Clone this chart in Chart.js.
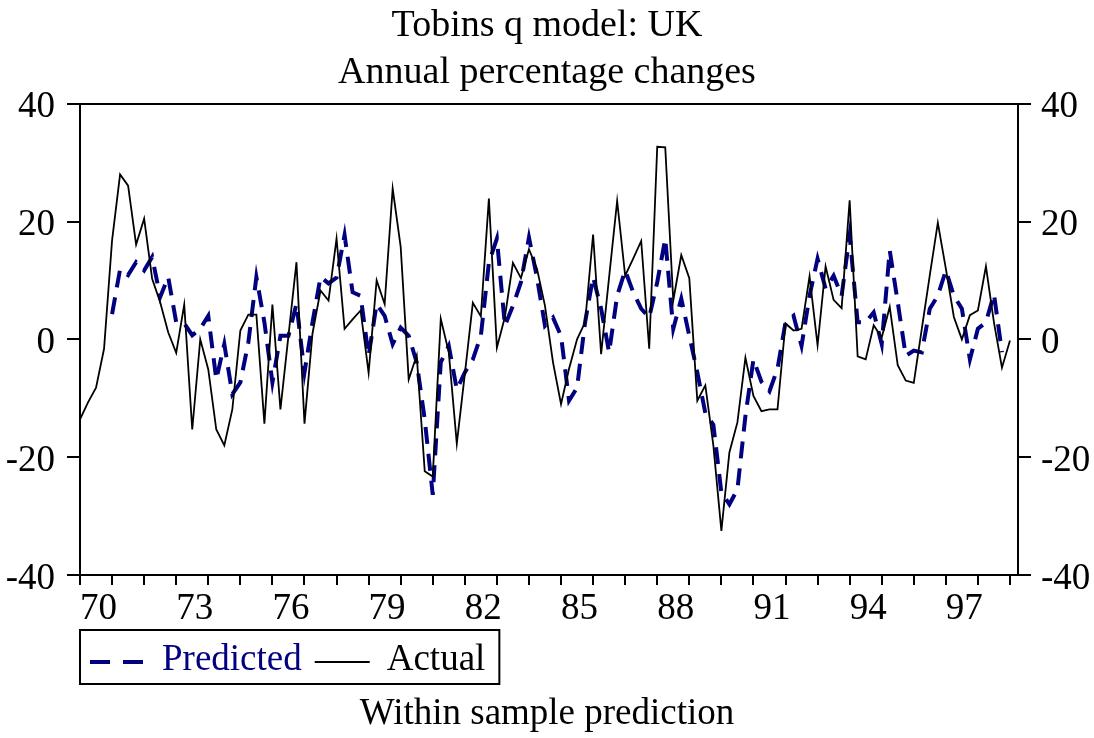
<!DOCTYPE html>
<html>
<head>
<meta charset="utf-8">
<script src="https://cdn.jsdelivr.net/npm/chart.js@4.4.1/dist/chart.umd.min.js"></script>
<style>
  html, body { margin: 0; padding: 0; background: #fff; }
  #wrap { width: 1094px; height: 738px; }
</style>
</head>
<body>
<div id="wrap"><canvas id="chart"></canvas></div>
<script>
// quarterly series, annual % changes
const actualStart = 1970;      // 1970 Q1
const actual = [
  -13.6, -10.7, -8.2, -1.6, 16.8, 28.0, 26.1, 16.1, 20.5, 10.3,
  6.3, 1.2, -2.3, 5.9, -15.3, 0.0, -5.1, -15.3, -18.0, -11.9,
  1.5, 4.2, 4.2, -14.3, 5.9, -11.9, 0.6, 13.1, -14.3, 1.0,
  8.3, 6.6, 17.1, 1.8, 3.4, 4.9, -5.7, 10.0, 6.0, 25.6,
  15.7, -6.8, -2.7, -22.4, -23.3, 3.5, -2.2, -17.7, -5.9, 6.2,
  3.9, 23.9, -1.4, 3.8, 13.0, 10.4, 15.3, 12.0, 5.7, -3.9,
  -11.0, -5.0, 0.0, 2.9, 17.8, -2.5, 10.6, 23.5, 10.8, 13.7,
  16.7, -1.6, 32.7, 32.6, 6.6, 14.3, 10.4, -10.4, -7.8, -18.0,
  -32.5, -19.2, -14.1, -3.1, -9.6, -12.2, -11.9, -11.9, 2.7, 1.5,
  1.8, 10.7, -1.0, 12.4, 6.7, 5.3, 23.6, -2.9, -3.4, 2.4,
  0.3, 5.5, -4.4, -7.0, -7.4, 1.8, 10.9, 19.8, 12.0, 3.8,
  0.0, 4.1, 4.9, 12.4, 2.9, -4.8, -0.2
];
const predictedStart = 1971;   // 1971 Q1
const predicted = [
  4.3, 11.9, 10.9, 13.1, 11.7, 14.0, 7.2, 10.6, 2.9, 2.7,
  0.7, 1.8, 4.0, -6.8, -0.8, -9.3, -7.3, -0.5, 10.6, 2.9,
  -7.3, 0.6, 0.6, 6.0, -5.6, 2.9, 10.6, 9.5, 10.5, 17.7,
  8.0, 7.4, -2.8, 6.0, 4.0, -0.8, 2.0, 0.6, -3.9, -13.6,
  -26.4, -3.9, -1.1, -8.5, -5.6, -3.4, 0.6, 13.0, 17.1, 2.3,
  5.7, 9.7, 17.3, 10.5, 2.3, 3.7, 0.6, -10.4, -8.2, 2.9,
  10.6, 5.2, -2.2, 7.4, 11.7, 8.0, 5.2, 3.7, 9.7, 17.1,
  1.8, 6.9, 0.6, -5.6, -12.5, -14.5, -26.0, -28.0, -25.5, -13.0,
  -3.4, -7.2, -8.8, -5.0, 2.9, 4.0, -1.1, 7.4, 13.7, 8.6,
  10.8, 7.4, 17.7, 2.9, 2.9, 4.6, -0.8, 15.1, 6.3, -2.8,
  -1.9, -2.2, 5.2, 7.4, 11.7, 7.4, 5.2, -3.4, 1.8, 2.9,
  7.7, -2.2
];
const yTicks = [-40, -20, 0, 20, 40];
const labelYears = [1970, 1973, 1976, 1979, 1982, 1985, 1988, 1991, 1994, 1997];
const firstYear = 1970, lastYear = 1999;
const xMax = 1999.25;

const serif = '"Liberation Serif", "Times New Roman", serif';
const toPoints = (start, vals) => vals.map((v, i) => ({ x: start + i / 4, y: v }));

// legend in a box under the x axis, like the original
const legendBox = {
  id: 'legendBox',
  afterDraw(chart) {
    const { ctx, chartArea } = chart;
    const left = chartArea.left, top = chartArea.bottom + 55, h = 54;
    const midY = top + h / 2;
    ctx.save();
    ctx.font = '37px ' + serif;
    ctx.textBaseline = 'middle';
    let x = left + 10;
    let end = x;
    chart.data.datasets.forEach(ds => {
      ctx.beginPath();
      ctx.setLineDash(ds.borderDash ? [20, 13] : []);
      ctx.lineWidth = ds.borderWidth;
      ctx.strokeStyle = ds.borderColor;
      ctx.moveTo(x, midY + 5);
      ctx.lineTo(x + 55, midY + 5);
      ctx.stroke();
      x += 55 + 17;
      ctx.setLineDash([]);
      ctx.fillStyle = ds.borderColor;
      ctx.fillText(ds.label, x, midY + 3);
      end = x + ctx.measureText(ds.label).width;
      x = end + 13;
    });
    ctx.lineWidth = 2;
    ctx.strokeStyle = '#000';
    ctx.strokeRect(left, top, end + 14 - left, h);
    ctx.restore();
  }
};

const yAxis = (pos, w, pad) => ({
  position: pos,
  min: -40, max: 40,
  afterBuildTicks: s => { s.ticks = yTicks.map(v => ({ value: v })); },
  afterFit: s => { s.width = w; },
  grid: { drawOnChartArea: false, tickLength: 13, color: '#000', lineWidth: 2 },
  border: { color: '#000', width: 2 },
  ticks: { color: '#000', padding: pad, labelOffset: 4, font: { family: serif, size: 37 } }
});

new Chart(document.getElementById('chart'), {
  type: 'line',
  data: {
    datasets: [
      { label: 'Predicted', data: toPoints(predictedStart, predicted), borderColor: '#000080',
        borderWidth: 4, borderDash: [17, 10], pointRadius: 0, tension: 0, order: 2 },
      { label: 'Actual', data: toPoints(actualStart, actual), borderColor: '#000',
        borderWidth: 1.8, pointRadius: 0, tension: 0, order: 1 }
    ]
  },
  options: {
    responsive: true, maintainAspectRatio: false, animation: false,
    layout: { padding: 0 },
    plugins: {
      legend: { display: false },
      tooltip: { enabled: false },
      title: { display: true, text: ['Tobins q model: UK', 'Annual percentage changes'], color: '#000',
        font: { family: serif, size: 38, weight: 'normal', lineHeight: 1.24 }, padding: { top: 2.5, bottom: 7 } },
      subtitle: { display: true, position: 'bottom', text: 'Within sample prediction', color: '#000',
        font: { family: serif, size: 37, weight: 'normal', lineHeight: 1.25 }, padding: { top: 3, bottom: 0.75 } }
    },
    scales: {
      x: {
        type: 'linear', position: 'bottom', min: firstYear, max: xMax,
        afterBuildTicks: s => {
          const t = [];
          for (let y = firstYear; y <= lastYear; y++) t.push({ value: y });
          s.ticks = t;
        },
        afterFit: s => { s.height = 113; },
        grid: { drawOnChartArea: false, tickLength: 10, color: '#000', lineWidth: 2 },
        border: { color: '#000', width: 2 },
        ticks: { color: '#000', padding: 2, align: 'start', autoSkip: false, maxRotation: 0,
          font: { family: serif, size: 37 },
          callback: v => labelYears.includes(v) ? String(v).slice(2) : '' }
      },
      x2: {
        type: 'linear', position: 'top', min: firstYear, max: xMax,
        afterFit: s => { s.height = 0; },
        grid: { display: false },
        border: { color: '#000', width: 2 },
        ticks: { display: false }
      },
      y: yAxis('left', 80, 12),
      y2: yAxis('right', 76, 10)
    }
  },
  plugins: [legendBox]
});
</script>
</body>
</html>
